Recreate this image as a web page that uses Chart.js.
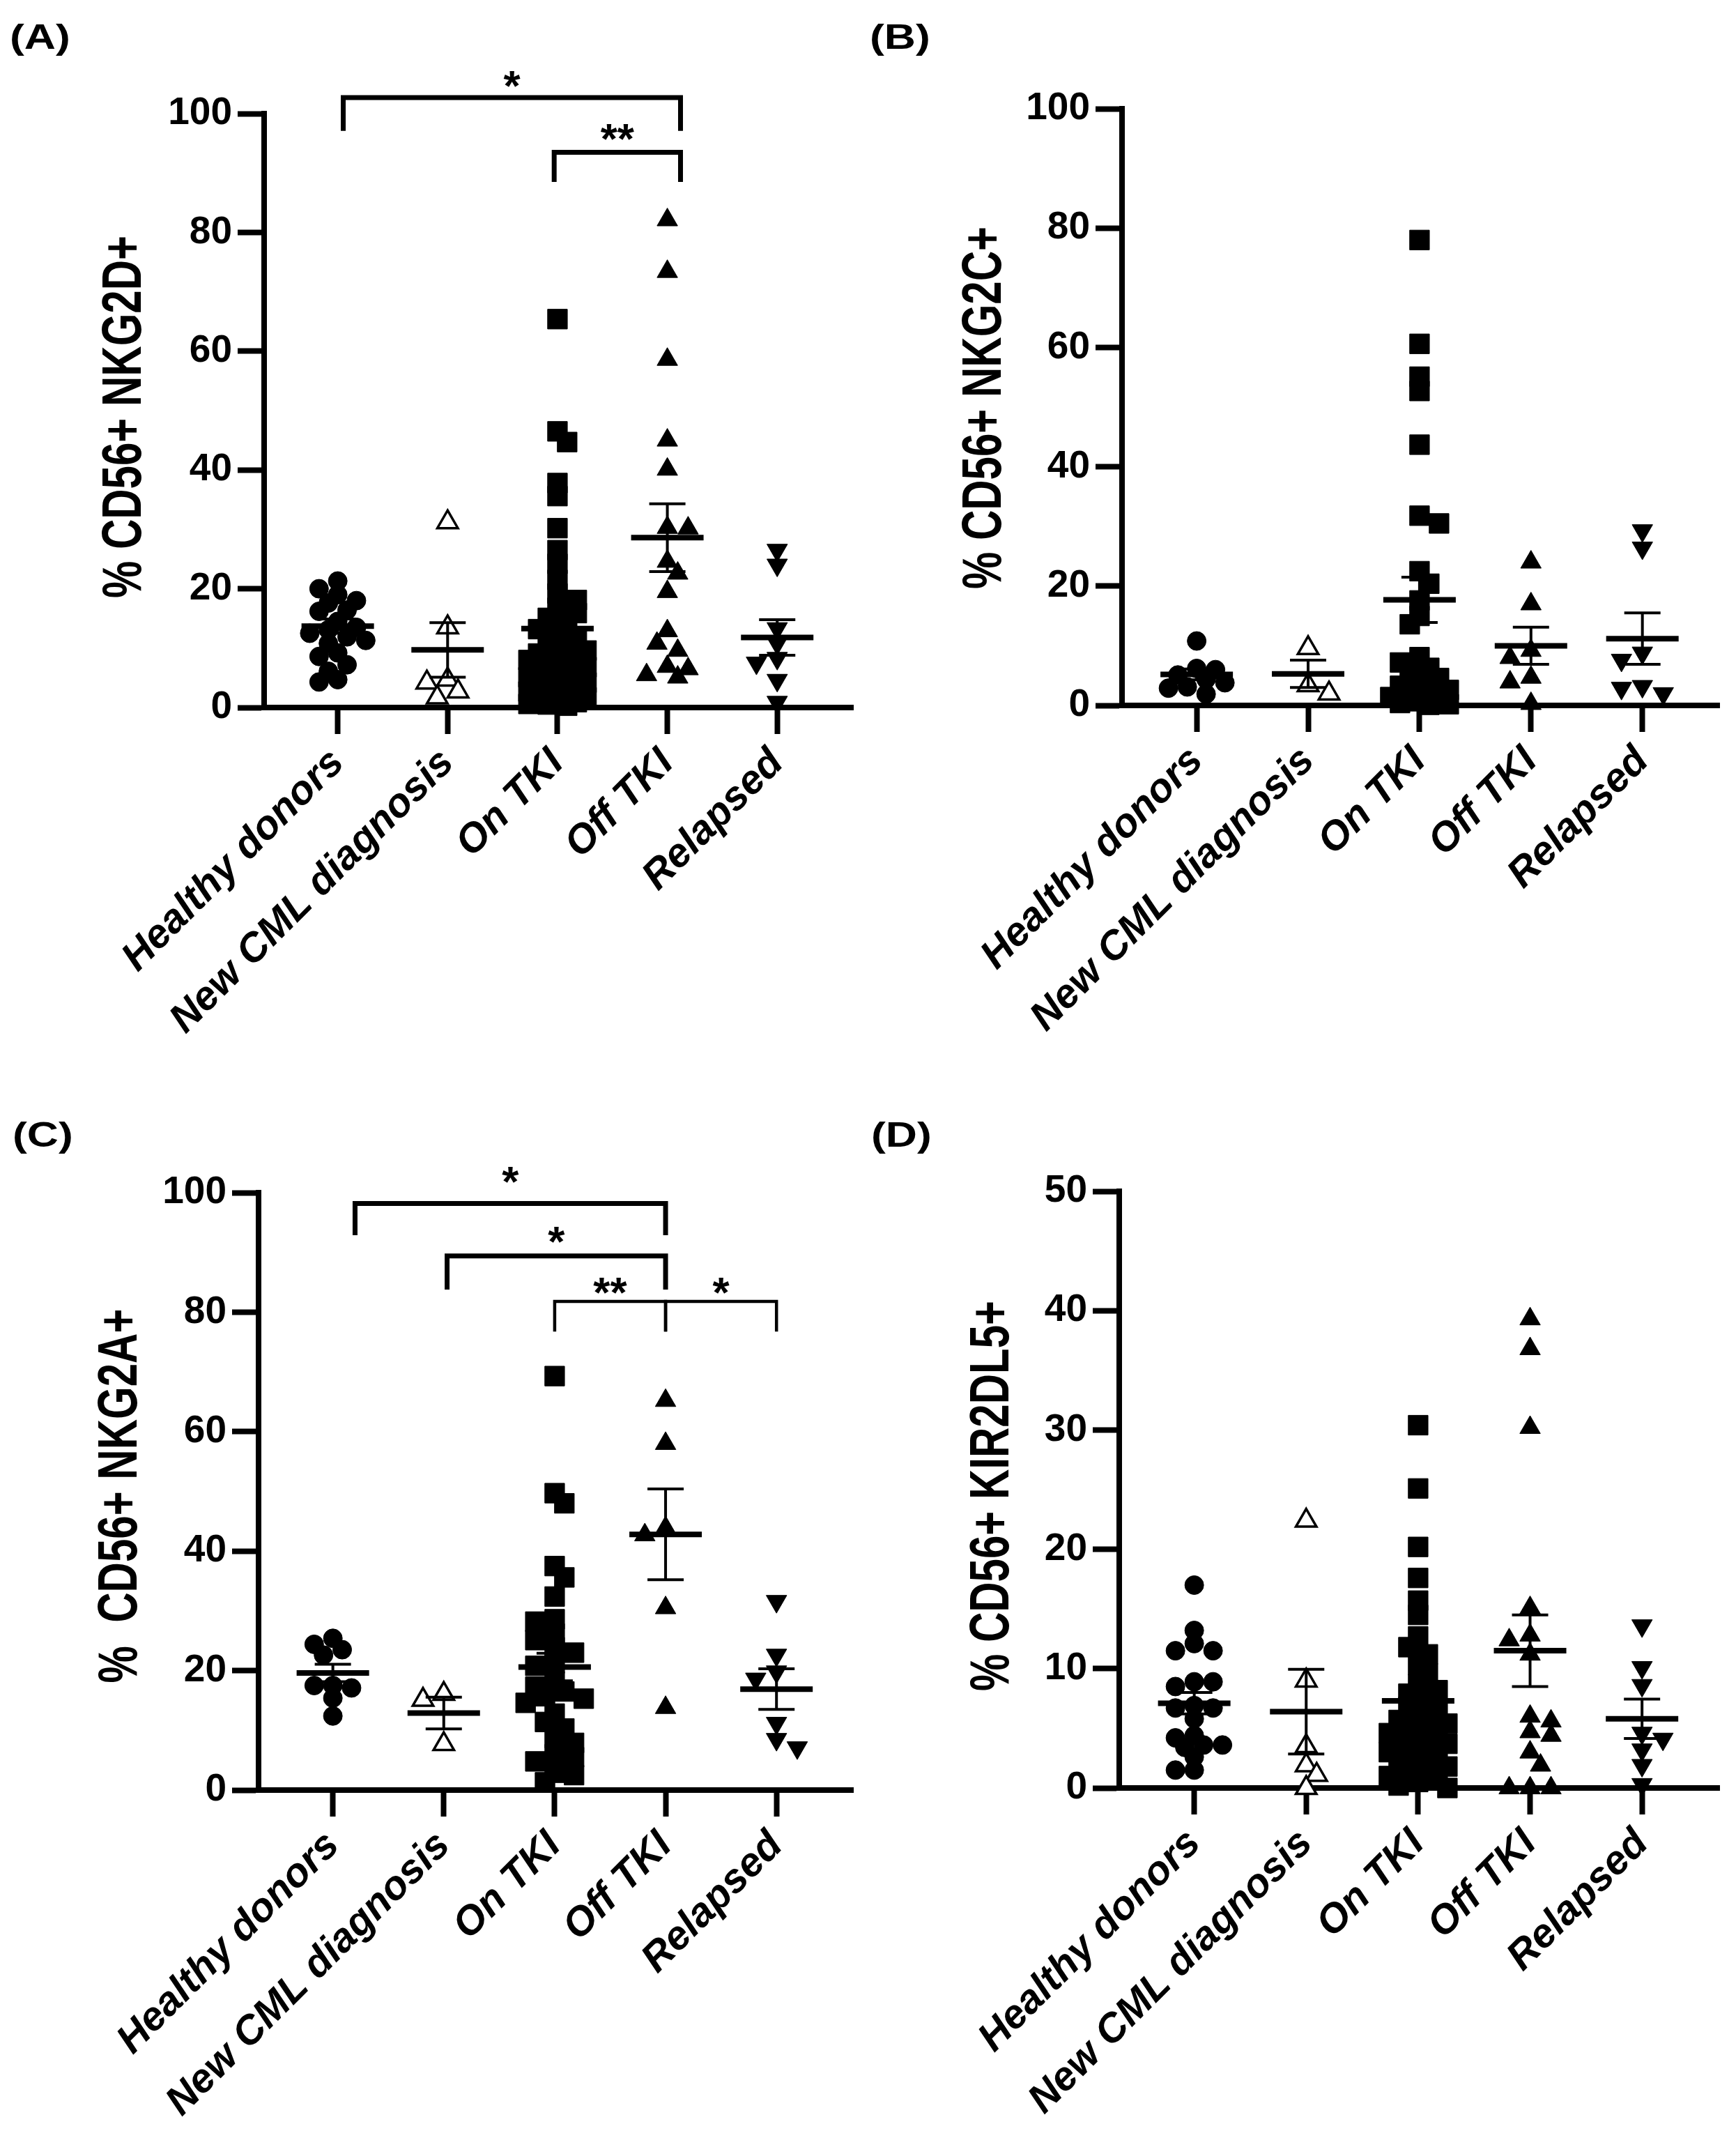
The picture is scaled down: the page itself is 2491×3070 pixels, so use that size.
<!DOCTYPE html>
<html>
<head>
<meta charset="utf-8">
<title>NK receptor expression by CML group</title>
<script src="https://cdn.jsdelivr.net/npm/chart.js@4.4.1/dist/chart.umd.min.js"></script>
<style>
    body { margin: 0; background: #fff; width: 2491px; height: 3070px; position: relative; overflow: hidden; }
    canvas { position: absolute; }
</style>
</head>
<body>
<canvas id="chartA" width="1245" height="1545" style="left:0;top:0"></canvas>
<canvas id="chartB" width="1246" height="1545" style="left:1245px;top:0"></canvas>
<canvas id="chartC" width="1245" height="1525" style="left:0;top:1545px"></canvas>
<canvas id="chartD" width="1246" height="1525" style="left:1245px;top:1545px"></canvas>
<script>
var categories = ['Healthy donors', 'New CML diagnosis', 'On TKI', 'Off TKI', 'Relapsed'];
var ticksPercent = [0, 20, 40, 60, 80, 100];
var ticksKir = [0, 10, 20, 30, 40, 50];

// (A) % CD56+ NKG2D+
var nkg2dHealthy = [21.3, 20.0, 19.0, 18.0, 17.6, 16.4, 16.2, 14.5, 13.5, 13.1, 12.5, 11.9, 11.3, 10.8, 9.2, 8.6, 7.2, 6.1, 4.7, 4.3];
var nkg2dNew = [31.2, 13.5, 4.7, 4.2, 2.7, 1.7];
var nkg2dOn = [65.4, 46.5, 44.7, 37.8, 35.6, 30.2, 26.5, 24.2, 21.5, 19.2, 18.1, 16.8, 15.9, 15.1, 14.0, 13.2,
    12.5, 11.7, 10.9, 10.2, 9.6, 9.1, 8.8, 8.5, 8.0, 7.6, 7.1, 6.8, 6.5, 6.0, 5.6, 5.1, 4.7, 4.4, 4.2, 3.8,
    3.3, 2.9, 2.7, 2.5, 2.1, 1.7, 1.3, 1.1, 0.9, 0.6, 0.5, 0.3];
var nkg2dOff = [82.1, 73.4, 58.6, 45.0, 40.1, 30.3, 30.2, 24.6, 22.6, 19.5, 12.9, 10.8, 9.6, 6.9, 6.5, 5.5, 5.1];
var nkg2dRelapsed = [26.5, 24.0, 13.3, 10.8, 8.3, 7.5, 4.6, 0.9];
var nkg2dMean = [13.7, 9.7, 13.3, 28.6, 11.8];
var nkg2dSem = [1.2, 4.6, 2.1, 5.7, 3.0];

// (B) % CD56+ NKG2C+
var nkg2cHealthy = [10.8, 6.2, 6.0, 5.1, 4.4, 3.8, 3.1, 2.9, 1.9];
var nkg2cNew = [9.6, 3.4, 2.0];
var nkg2cOn = [78.0, 60.6, 55.1, 52.7, 43.7, 31.8, 30.5, 22.5, 20.4, 17.6, 15.0, 13.6, 8.1, 7.2, 6.3, 5.5,
    4.6, 3.8, 3.3, 2.6, 2.2, 1.8, 1.4, 1.0, 0.7, 0.4, 0.2, 0.1];
var nkg2cOff = [24.0, 17.0, 9.2, 8.0, 4.7, 3.9, 0.3];
var nkg2cRelapsed = [29.3, 26.4, 8.8, 7.6, 3.2, 2.9, 2.0];
var nkg2cMean = [5.2, 5.3, 17.7, 10.0, 11.2];
var nkg2cSem = [0.9, 2.3, 3.8, 3.1, 4.3];

// (C) % CD56+ NKG2A+
var nkg2aHealthy = [25.4, 24.4, 23.5, 22.6, 17.5, 17.5, 17.1, 15.4, 12.4];
var nkg2aNew = [16.1, 15.1, 7.7];
var nkg2aOn = [69.3, 49.7, 48.0, 37.5, 35.6, 32.4, 28.6, 28.2, 26.2, 25.1, 23.9, 23.0, 21.2, 20.8, 18.2, 17.3,
    16.5, 15.7, 15.3, 14.6, 12.8, 11.4, 10.3, 8.7, 7.9, 6.0, 5.5, 4.8, 4.5, 2.9, 2.5, 1.3];
var nkg2aOff = [65.2, 58.0, 43.9, 42.7, 30.5, 13.8];
var nkg2aRelapsed = [31.6, 22.6, 19.8, 18.6, 11.2, 8.5, 7.1];
var nkg2aMean = [19.6, 12.9, 20.6, 42.8, 16.9];
var nkg2aSem = [1.45, 2.65, 2.3, 7.6, 3.4];

// (D) % CD56+ KIR2DL5+
var kirHealthy = [17.0, 13.2, 12.1, 11.5, 11.5, 8.9, 8.9, 8.5, 6.9, 6.7, 6.7, 5.8, 4.4, 4.2, 3.6, 3.6, 3.4, 2.6, 1.5, 1.5];
var kirNew = [22.4, 9.0, 3.5, 1.9, 1.1, 0.0];
var kirOn = [30.4, 25.1, 20.2, 17.6, 15.7, 14.5, 12.7, 11.8, 11.2, 10.3, 9.6, 8.7, 8.2, 7.9, 7.3, 6.8, 6.4,
    6.0, 5.7, 5.4, 5.1, 4.8, 4.6, 4.3, 4.1, 3.9, 3.7, 3.5, 3.2, 3.0, 2.7, 2.4, 2.0, 1.8, 1.5, 1.3, 1.0, 0.7,
    0.5, 0.2, 0.0];
var kirOff = [39.3, 36.8, 30.2, 15.1, 12.8, 12.4, 11.2, 6.0, 5.6, 4.7, 4.4, 3.0, 1.9, 0.0, 0.0, 0.0];
var kirRelapsed = [13.6, 10.1, 8.6, 4.6, 4.1, 3.2, 1.9, 0.3];
var kirMean = [7.1, 6.4, 7.3, 11.5, 5.8];
var kirSem = [0.9, 3.55, 1.0, 3.0, 1.65];

var FONT = "'Liberation Sans', Arial, sans-serif";
var X_MIN = -0.67;
var X_MAX = 4.69;

// marker per group, GraphPad style
var groupStyles = [
    {pointStyle: 'circle', radius: 13.5, fill: '#000', border: 1, gap: 27},
    {pointStyle: 'triangle', radius: 17, fill: '#fff', border: 3.5, gap: 30},
    {pointStyle: 'rect', radius: 20, fill: '#000', border: 1, gap: 28},
    {pointStyle: 'triangle', radius: 17, fill: '#000', border: 1, gap: 30},
    {pointStyle: 'triangle', radius: 17, fill: '#000', border: 1, gap: 30, rotation: 180}
];

// simple beeswarm: spread close values sideways (partial overlap allowed), spread is capped
function swarmOffsets(values, pxPerUnit, diameter, maxOffset) {
    var order = values.map(function(v, i) { return i; });
    order.sort(function(a, b) { return values[b] - values[a]; });
    var step = diameter / 2;
    var minGap = diameter * 0.65;
    var candidates = [0];
    for (var k = 1; k * step <= maxOffset + 0.01; k++) {
        candidates.push(k * step, -k * step);
    }
    var placed = [];
    var offsets = [];
    order.forEach(function(idx, n) {
        var y = values[idx] * pxPerUnit;
        var side = n % 2 ? -1 : 1;
        var best = 0, bestGap = -1;
        for (var c = 0; c < candidates.length; c++) {
            var x = side * candidates[c];
            var gap = Infinity;
            placed.forEach(function(p) {
                gap = Math.min(gap, Math.hypot(p.x - x, p.y - y));
            });
            if (gap >= minGap) { best = x; break; }
            if (gap > bestGap) { bestGap = gap; best = x; }
        }
        placed.push({x: best, y: y});
        offsets[idx] = best;
    });
    return offsets;
}

function meanSemPlugin(means, sems) {
    return {
        id: 'meanSem',
        afterDatasetsDraw: function(chart) {
            var ctx = chart.ctx, xs = chart.scales.x, ys = chart.scales.y;
            ctx.save();
            ctx.strokeStyle = '#000';
            means.forEach(function(m, i) {
                var x = xs.getPixelForValue(i);
                var ym = ys.getPixelForValue(m);
                var yt = ys.getPixelForValue(m + sems[i]);
                var yb = ys.getPixelForValue(m - sems[i]);
                ctx.lineWidth = 4;
                ctx.beginPath();
                ctx.moveTo(x, yt); ctx.lineTo(x, yb);
                ctx.moveTo(x - 26, yt); ctx.lineTo(x + 26, yt);
                ctx.moveTo(x - 26, yb); ctx.lineTo(x + 26, yb);
                ctx.stroke();
                ctx.lineWidth = 8;
                ctx.beginPath();
                ctx.moveTo(x - 52, ym); ctx.lineTo(x + 52, ym);
                ctx.stroke();
            });
            ctx.restore();
        }
    };
}

function bracketPlugin(brackets) {
    return {
        id: 'brackets',
        afterDraw: function(chart) {
            var ctx = chart.ctx, xs = chart.scales.x, ys = chart.scales.y;
            ctx.save();
            ctx.strokeStyle = '#000';
            ctx.fillStyle = '#000';
            ctx.lineCap = 'square';
            brackets.forEach(function(b) {
                var x1 = xs.getPixelForValue(b.from), x2 = xs.getPixelForValue(b.to);
                var y = ys.getPixelForValue(b.y);
                ctx.lineWidth = b.width || 7;
                ctx.beginPath();
                ctx.moveTo(x1, ys.getPixelForValue(b.y - b.drop));
                ctx.lineTo(x1, y);
                ctx.lineTo(x2, y);
                ctx.lineTo(x2, ys.getPixelForValue(b.y - b.drop));
                ctx.stroke();
                ctx.font = 'bold 62px ' + FONT;
                ctx.textAlign = 'center';
                ctx.textBaseline = 'middle';
                ctx.fillText(b.label, (x1 + x2) / 2, y - b.lift + 17);
            });
            ctx.restore();
        }
    };
}

// panel letter and the tall, narrow y-axis title of the original figure
function labelsPlugin(panel) {
    return {
        id: 'panelLabels',
        afterDraw: function(chart) {
            var ctx = chart.ctx;
            ctx.save();
            ctx.fillStyle = '#000';
            ctx.font = 'bold 50px ' + FONT;
            ctx.textAlign = 'left';
            ctx.textBaseline = 'alphabetic';
            ctx.translate(panel.tag.x, panel.tag.y);
            ctx.scale(1.25, 1);
            ctx.fillText(panel.tag.text, 0, 0);
            ctx.restore();

            ctx.save();
            ctx.fillStyle = '#000';
            ctx.font = 'bold 80px ' + FONT;
            ctx.textAlign = 'center';
            ctx.textBaseline = 'middle';
            ctx.translate(panel.titleAt.x, panel.titleAt.y);
            ctx.rotate(-Math.PI / 2);
            ctx.scale(0.75, 1);
            ctx.fillText(panel.title, 0, 0);
            ctx.restore();
        }
    };
}

function buildPanel(canvasId, panel) {
    var canvas = document.getElementById(canvasId);
    var box = panel.box;
    var pxPerUnit = (box.bottom - box.top) / panel.yTicks[panel.yTicks.length - 1];
    var pxPerCat = (box.right - box.left) / (X_MAX - X_MIN);
    var axisGrid = {drawOnChartArea: false, drawTicks: true, tickLength: 38, tickWidth: 8, tickColor: '#000', color: '#000'};
    var axisBorder = {display: true, width: 8, color: '#000'};

    var datasets = panel.groups.map(function(values, i) {
        var style = groupStyles[i];
        var offs = swarmOffsets(values, pxPerUnit, style.gap, 42);
        return {
            label: categories[i],
            data: values.map(function(v, k) { return {x: i + offs[k] / pxPerCat, y: v}; }),
            pointStyle: style.pointStyle,
            pointRadius: style.radius,
            pointRotation: style.rotation || 0,
            pointBackgroundColor: style.fill,
            pointBorderColor: '#000',
            pointBorderWidth: style.border,
            showLine: false,
            clip: false
        };
    });

    return new Chart(canvas, {
        type: 'scatter',
        data: {datasets: datasets},
        options: {
            responsive: false,
            animation: false,
            events: [],
            layout: {padding: {left: box.padLeft, top: box.top, right: canvas.width - box.right, bottom: 0}},
            plugins: {legend: {display: false}, tooltip: {enabled: false}},
            scales: {
                x: {
                    type: 'linear',
                    min: X_MIN,
                    max: X_MAX,
                    afterBuildTicks: function(scale) {
                        scale.ticks = categories.map(function(c, i) { return {value: i}; });
                    },
                    afterFit: function(scale) { scale.height = canvas.height - box.bottom; },
                    ticks: {
                        callback: function(value) { return categories[value]; },
                        autoSkip: false,
                        minRotation: 45,
                        maxRotation: 45,
                        padding: 8,
                        color: '#000',
                        font: {family: FONT, size: 58, weight: 'bold', style: 'italic'}
                    },
                    grid: axisGrid,
                    border: axisBorder
                },
                y: {
                    type: 'linear',
                    min: 0,
                    max: panel.yTicks[panel.yTicks.length - 1],
                    afterBuildTicks: function(scale) {
                        scale.ticks = panel.yTicks.map(function(v) { return {value: v}; });
                    },
                    afterFit: function(scale) { scale.width = box.left - box.padLeft; },
                    ticks: {padding: 8, color: '#000', font: {family: FONT, size: 55, weight: 'bold'}},
                    grid: axisGrid,
                    border: axisBorder
                }
            }
        },
        plugins: [meanSemPlugin(panel.means, panel.sems), bracketPlugin(panel.brackets), labelsPlugin(panel)]
    });
}

buildPanel('chartA', {
    title: '% CD56+ NKG2D+',
    tag: {text: '(A)', x: 14, y: 70},
    titleAt: {x: 180, y: 598},
    yTicks: ticksPercent,
    groups: [nkg2dHealthy, nkg2dNew, nkg2dOn, nkg2dOff, nkg2dRelapsed],
    means: nkg2dMean, sems: nkg2dSem,
    box: {padLeft: 143, left: 379, top: 163, right: 1230, bottom: 1015},
    brackets: [
        {from: 0.05, to: 3.12, y: 102.7, drop: 5.2, label: '*', lift: 30},
        {from: 1.97, to: 3.12, y: 93.5, drop: 4.6, label: '**', lift: 32}
    ]
});

buildPanel('chartB', {
    title: '% CD56+ NKG2C+',
    tag: {text: '(B)', x: 3, y: 70},
    titleAt: {x: 169, y: 585},
    yTicks: ticksPercent,
    groups: [nkg2cHealthy, nkg2cNew, nkg2cOn, nkg2cOff, nkg2cRelapsed],
    means: nkg2cMean, sems: nkg2cSem,
    box: {padLeft: 128, left: 365, top: 156, right: 1222, bottom: 1012},
    brackets: []
});

buildPanel('chartC', {
    title: '%  CD56+ NKG2A+',
    tag: {text: '(C)', x: 18, y: 100},
    titleAt: {x: 174, y: 601},
    yTicks: ticksPercent,
    groups: [nkg2aHealthy, nkg2aNew, nkg2aOn, nkg2aOff, nkg2aRelapsed],
    means: nkg2aMean, sems: nkg2aSem,
    box: {padLeft: 131, left: 371, top: 166, right: 1230, bottom: 1023},
    brackets: [
        {from: 0.2, to: 3.0, y: 98.2, drop: 4.9, label: '*', lift: 45},
        {from: 1.03, to: 3.0, y: 89.4, drop: 5.2, label: '*', lift: 34},
        {from: 2.0, to: 3.0, y: 81.8, drop: 4.8, label: '**', lift: 26, width: 4.5},
        {from: 3.0, to: 4.0, y: 81.8, drop: 4.8, label: '*', lift: 26, width: 4.5}
    ]
});

buildPanel('chartD', {
    title: '% CD56+ KIR2DL5+',
    tag: {text: '(D)', x: 5, y: 100},
    titleAt: {x: 180, y: 601},
    yTicks: ticksKir,
    groups: [kirHealthy, kirNew, kirOn, kirOff, kirRelapsed],
    means: kirMean, sems: kirSem,
    box: {padLeft: 146, left: 361, top: 164, right: 1222, bottom: 1020},
    brackets: []
});
</script>
</body>
</html>
